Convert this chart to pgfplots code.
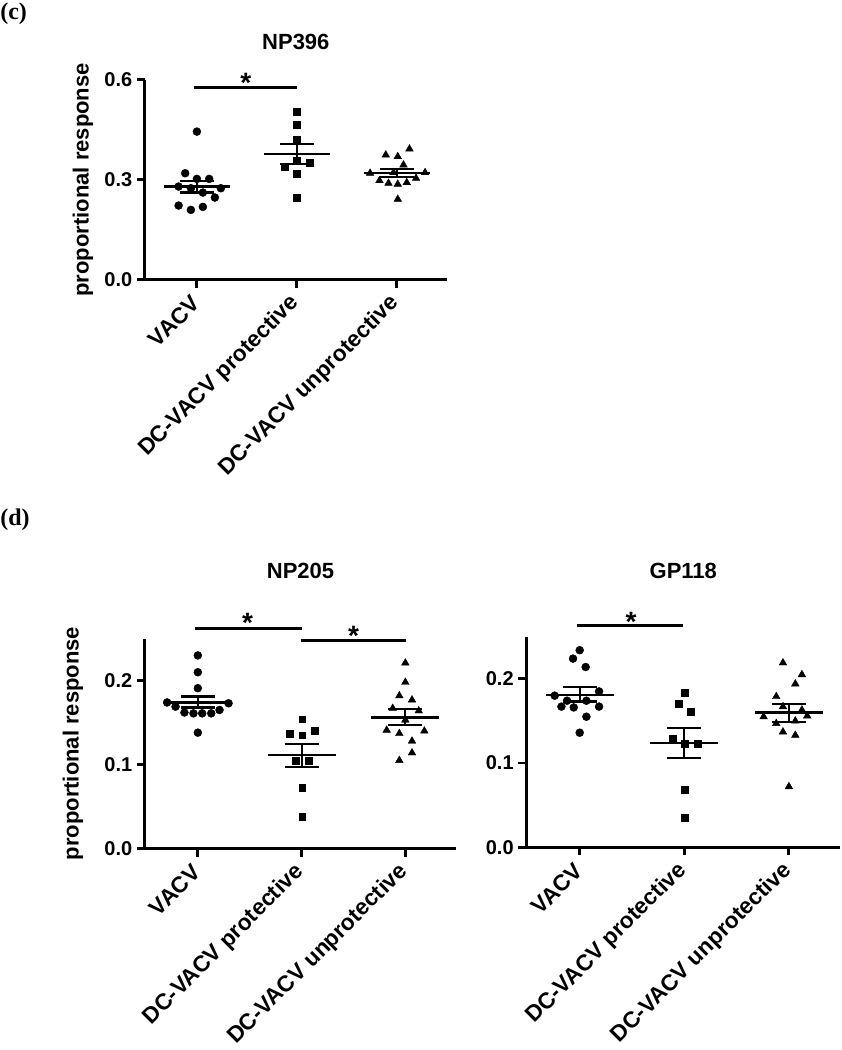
\documentclass[border=0pt]{standalone}
\usepackage{pgfplots}
\pgfplotsset{compat=1.18}
\usepackage{fontspec}
\setmainfont{Liberation Sans}
\newfontfamily\serifbf{Liberation Serif}

\pgfplotsset{
  panel/.style={
    scale only axis, anchor=south west, clip=false,
    axis x line*=bottom, axis y line*=left,
    axis line style={line width=2.2pt, black},
    tick align=outside, major tick length=6pt,
    every tick/.style={line width=2.2pt, black},
    xtick={0,1,2},
    xticklabels={VACV, DC-VACV protective, DC-VACV unprotective},
    xticklabel style={rotate=45, anchor=east, inner sep=1pt, font=\fontsize{17}{20}\selectfont\bfseries},
    xticklabel shift=8pt,
    yticklabel style={font=\fontsize{15}{18}\selectfont\bfseries,
      /pgf/number format/fixed, /pgf/number format/fixed zerofill, /pgf/number format/precision=1},
    /pgf/number format/assume math mode=true,
    label style={font=\fontsize{16.5}{20}\selectfont\bfseries},
    ymin=0,
  },
  pts/.style={only marks, black, mark options={fill=black, draw=black, line width=0.3pt}},
  meanl/.style={only marks, black, mark=-, mark size=25pt, mark options={line width=1.6pt}},
  seml/.style={draw=none, mark=none, forget plot, error bars/.cd, y dir=both, y explicit,
      error bar style={line width=1.6pt, black}, error mark options={rotate=90, line width=1.6pt, black, mark size=12.75pt}},
  sig/.style={black, line width=2.2pt, mark=none},
}
\newcommand{\ttl}{\fontsize{16.5}{20}\selectfont\bfseries}
\newcommand{\str}{\fontsize{21}{22}\selectfont\bfseries}

\begin{document}
\begin{tikzpicture}
\path (0,0) rectangle (631.5pt,-787.5pt);
\node[anchor=north west, inner sep=0pt, font=\fontsize{18}{20}\selectfont\serifbf\bfseries] at (0pt,-2pt) {(c)};
\node[anchor=north west, inner sep=0pt, font=\fontsize{18}{20}\selectfont\serifbf\bfseries] at (0pt,-382pt) {(d)};

% ---------------- Panel c : NP396
\begin{axis}[panel, at={(108.75pt,-210pt)}, width=226.5pt, height=150pt,
  xmin=-0.52, xmax=2.5, ymax=0.6, ytick={0,0.3,0.6},
  ylabel={proportional response}, ylabel style={at={(axis description cs:-0.205,0.5)}, anchor=center}]
\addplot[pts, mark=*, mark size=3pt] coordinates {
(0.000,0.445) (-0.117,0.320) (0.000,0.303) (0.123,0.303) (-0.183,0.280) (-0.060,0.275)
(0.240,0.275) (0.060,0.262) (0.180,0.247) (-0.183,0.223) (0.060,0.219) (-0.060,0.210)};
\addplot[pts, mark=square*, mark size=2.6pt] coordinates {
(1.000,0.505) (1.000,0.467) (1.000,0.422) (1.000,0.358) (0.877,0.340) (1.127,0.352) (1.000,0.318) (1.000,0.247)};
\addplot[pts, mark=triangle*, mark size=3.3pt] coordinates {
(2.127,0.393) (1.890,0.375) (2.010,0.370) (2.067,0.345) (1.733,0.320) (2.283,0.322) (1.967,0.322)
(1.827,0.298) (1.917,0.290) (2.010,0.287) (2.100,0.292) (2.193,0.305) (2.010,0.242)};
\addplot[meanl, mark size=24.75pt] coordinates {(0,0.280) (1,0.377) (2,0.320)};
\addplot[seml] coordinates {(0,0.280) +- (0,0.018) (1,0.377) +- (0,0.030) (2,0.320) +- (0,0.012)};
\addplot[sig] coordinates {(-0.03,0.578) (1.0,0.578)};
\node[font=\str, yshift=-5pt] at (axis cs:0.49,0.61) {*};
\node[font=\ttl, anchor=center] at (axis description cs:0.5,1.19) {NP396};
\end{axis}

% ---------------- Panel d : NP205
\begin{axis}[panel, at={(108.75pt,-636.75pt)}, width=233.6pt, height=157.5pt,
  xmin=-0.51, xmax=2.49, ymax=0.25, ytick={0,0.1,0.2},
  ylabel={proportional response}, ylabel style={at={(axis description cs:-0.231,0.5)}, anchor=center}]
\addplot[pts, mark=*, mark size=3pt] coordinates {
(0.000,0.230) (0.000,0.210) (0.000,0.191) (-0.296,0.174) (-0.215,0.169) (-0.129,0.162)
(-0.042,0.161) (0.042,0.161) (0.129,0.161) (0.209,0.165) (0.296,0.173) (0.000,0.138)};
\addplot[pts, mark=square*, mark size=2.6pt] coordinates {
(1.006,0.154) (0.881,0.137) (1.006,0.135) (1.129,0.140) (0.945,0.105) (1.071,0.105) (1.006,0.072) (1.006,0.038)};
\addplot[pts, mark=triangle*, mark size=3.3pt] coordinates {
(2.000,0.221) (2.000,0.198) (1.942,0.182) (2.064,0.177) (1.878,0.167) (2.129,0.164) (2.000,0.153)
(1.820,0.141) (1.942,0.137) (2.183,0.140) (2.064,0.128) (2.064,0.114) (1.942,0.105)};
\addplot[meanl, mark size=25.5pt] coordinates {(0,0.174) (1,0.111) (2,0.156)};
\addplot[seml] coordinates {(0,0.1745) +- (0,0.0065) (1,0.111) +- (0,0.0137) (2,0.1565) +- (0,0.0093)};
\addplot[sig] coordinates {(-0.03,0.262) (1.0,0.262)};
\addplot[sig] coordinates {(0.99,0.248) (2.01,0.248)};
\node[font=\str, yshift=-5pt] at (axis cs:0.48,0.2766) {*};
\node[font=\str, yshift=-5pt] at (axis cs:1.50,0.2607) {*};
\node[font=\ttl, anchor=center] at (axis description cs:0.5,1.324) {NP205};
\end{axis}

% ---------------- Panel d : GP118
\begin{axis}[panel, at={(395pt,-635.8pt)}, width=235.5pt, height=158pt,
  xmin=-0.51, xmax=2.49, ymax=0.25, ytick={0,0.1,0.2}]
\addplot[pts, mark=*, mark size=3pt] coordinates {
(0.000,0.234) (-0.064,0.224) (0.057,0.214) (0.185,0.185) (-0.239,0.180) (-0.121,0.174)
(0.064,0.174) (-0.175,0.167) (-0.057,0.166) (0.185,0.167) (0.064,0.155) (0.000,0.136)};
\addplot[pts, mark=square*, mark size=2.6pt] coordinates {
(1.006,0.184) (0.943,0.171) (1.064,0.161) (0.885,0.129) (1.006,0.123) (1.124,0.123) (1.006,0.068) (1.006,0.035)};
\addplot[pts, mark=triangle*, mark size=3.3pt] coordinates {
(1.943,0.219) (2.124,0.205) (2.061,0.194) (1.879,0.179) (1.943,0.167) (2.124,0.163) (1.758,0.155)
(2.175,0.156) (1.879,0.147) (2.061,0.150) (1.943,0.137) (2.061,0.133) (2.000,0.072)};
\addplot[meanl, mark size=25.5pt] coordinates {(0,0.181) (1,0.124) (2,0.160)};
\addplot[seml] coordinates {(0,0.1815) +- (0,0.0085) (1,0.124) +- (0,0.018) (2,0.1595) +- (0,0.0105)};
\addplot[sig] coordinates {(-0.03,0.263) (0.99,0.263)};
\node[font=\str, yshift=-5pt] at (axis cs:0.49,0.276) {*};
\node[font=\ttl, anchor=center] at (axis description cs:0.5,1.313) {GP118};
\end{axis}
\end{tikzpicture}
\end{document}
